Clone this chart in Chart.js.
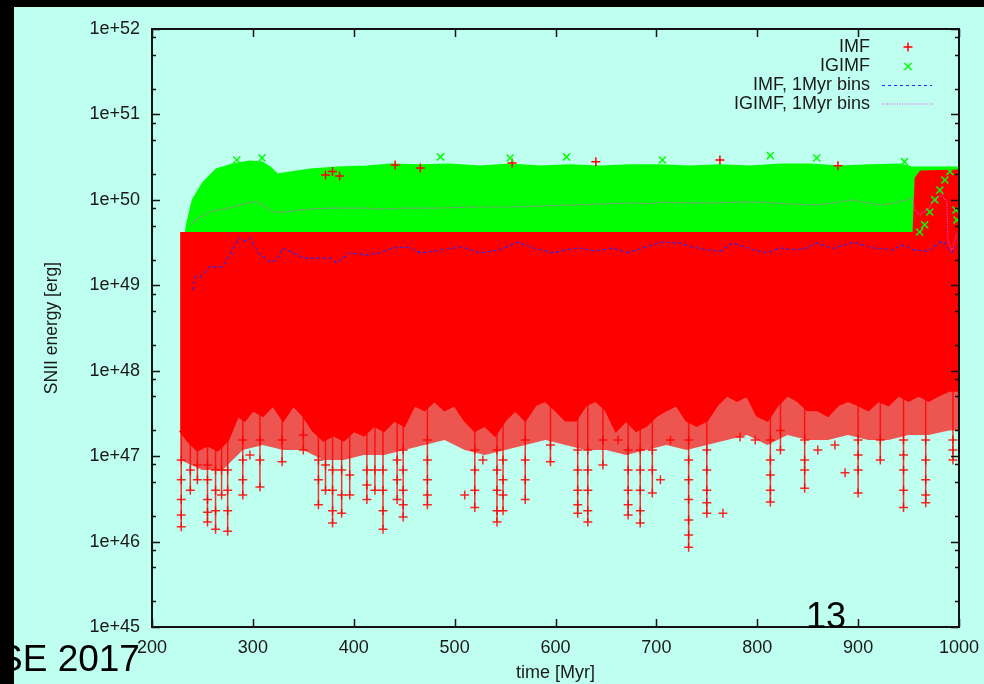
<!DOCTYPE html>
<html>
<head>
<meta charset="utf-8">
<script src="https://cdn.jsdelivr.net/npm/chart.js@4.4.0/dist/chart.umd.min.js"></script>
<style>
  html, body { margin: 0; padding: 0; background: #bffff0; overflow: hidden; }
  #wrap { position: relative; width: 984px; height: 684px; }
  canvas { position: absolute; left: 0; top: 0; }
  .bar { position: absolute; background: #000; z-index: 5; }
  .note { position: absolute; font-family: "Liberation Sans", Arial, sans-serif; color: #000; z-index: 4; line-height: 1; white-space: nowrap; }
</style>
</head>
<body>
<div id="wrap">
  <canvas id="chart" width="984" height="684"></canvas>
  <div class="bar" style="left:0;top:0;width:984px;height:7px"></div>
  <div class="bar" style="left:0;top:0;width:14px;height:684px"></div>
  <div class="note" style="left:-2px;top:640px;font-size:37px">SE 2017</div>
  <div class="note" style="left:806px;top:598px;font-size:36px">13</div>
</div>
<script>
// axis ticks
const xTicks = [200, 300, 400, 500, 600, 700, 800, 900, 1000];
const yTicks = [1e45, 1e46, 1e47, 1e48, 1e49, 1e50, 1e51, 1e52];
const yTickLabels = ["1e+45", "1e+46", "1e+47", "1e+48", "1e+49", "1e+50", "1e+51", "1e+52"];
const yMinor = [2, 5, 8];

// top of the dense IMF cloud (erg)
const imfCeiling = 4.2e49;

// upper edge of the IGIMF cloud [time Myr, energy erg]
const igimfTop = [
  [234, 4.2e49], [235, 5.0e49], [238, 7.2e49], [241, 1.0e50], [251, 1.57e50], [264, 2.24e50],
  [280, 2.56e50], [297, 2.77e50], [309, 2.7e50], [317, 2.36e50], [324, 1.95e50], [337, 2.06e50],
  [357, 2.24e50], [383, 2.36e50], [413, 2.42e50], [436, 2.56e50], [466, 2.5e50], [495, 2.56e50],
  [525, 2.42e50], [555, 2.56e50], [585, 2.42e50], [614, 2.5e50], [644, 2.42e50], [674, 2.5e50],
  [704, 2.5e50], [733, 2.42e50], [763, 2.5e50], [793, 2.42e50], [823, 2.56e50], [852, 2.56e50],
  [882, 2.42e50], [912, 2.5e50], [942, 2.56e50], [953, 2.36e50], [1000, 2.36e50]
];

// lower edge of the dense IMF cloud
const imfFloor = [
  [228, 2.0e47], [235, 1.55e47], [245, 1.18e47], [255, 1.35e47], [265, 1.18e47], [275, 1.55e47],
  [285, 3.0e47], [292, 2.65e47], [300, 3.5e47], [310, 3.0e47], [320, 4.0e47], [330, 2.65e47],
  [340, 4.0e47], [350, 3.0e47], [360, 2.0e47], [370, 1.55e47], [380, 1.77e47], [390, 1.55e47],
  [400, 2.0e47], [410, 1.77e47], [420, 2.3e47], [430, 2.0e47], [440, 2.65e47], [450, 2.3e47],
  [460, 4.0e47], [470, 3.5e47], [480, 4.5e47], [490, 3.5e47], [500, 4.0e47], [510, 2.65e47],
  [520, 2.0e47], [530, 2.3e47], [540, 1.77e47], [550, 2.65e47], [560, 3.5e47], [570, 2.65e47],
  [580, 4.0e47], [590, 4.5e47], [600, 3.5e47], [610, 2.65e47], [620, 2.65e47], [630, 4.0e47],
  [640, 4.5e47], [650, 3.5e47], [660, 2.0e47], [670, 2.65e47], [680, 2.0e47], [690, 2.3e47],
  [700, 3.0e47], [710, 3.5e47], [720, 4.0e47], [730, 2.65e47], [740, 2.3e47], [750, 2.65e47],
  [760, 4.0e47], [770, 5.2e47], [780, 4.5e47], [790, 5.2e47], [800, 3.0e47], [810, 2.65e47],
  [820, 4.0e47], [830, 5.2e47], [840, 4.5e47], [850, 3.5e47], [860, 3.5e47], [870, 3.0e47],
  [880, 4.0e47], [890, 4.5e47], [900, 4.0e47], [910, 3.5e47], [920, 4.5e47], [930, 4.0e47],
  [940, 5.2e47], [950, 4.5e47], [960, 5.2e47], [970, 4.5e47], [980, 5.2e47], [990, 5.9e47],
  [1000, 5.9e47]
];

// lower edge of the thinner fringe below the dense cloud
const imfFringe = [
  [228, 9.0e46], [250, 6.9e46], [270, 6.9e46], [290, 1.18e47], [310, 1.35e47], [330, 1.18e47],
  [350, 1.18e47], [370, 9.0e46], [390, 9.0e46], [410, 1.03e47], [430, 1.03e47], [450, 1.18e47],
  [470, 1.35e47], [490, 1.55e47], [510, 1.18e47], [530, 1.03e47], [550, 1.18e47], [570, 1.35e47],
  [590, 1.55e47], [610, 1.35e47], [630, 1.18e47], [650, 1.18e47], [670, 1.03e47], [690, 1.18e47],
  [710, 1.35e47], [730, 1.18e47], [750, 1.35e47], [770, 1.55e47], [790, 1.77e47], [810, 1.35e47],
  [830, 1.77e47], [850, 1.55e47], [870, 1.55e47], [890, 1.77e47], [910, 1.55e47], [930, 1.55e47],
  [950, 1.77e47], [970, 1.77e47], [990, 2.0e47], [1000, 2.0e47]
];

// IMF events rising above the ceiling at the late end
const imfLateTop = [[955, 4.2e49], [957, 1.8e50], [962, 2.15e50], [1000, 2.2e50]];

// single IMF events below the dense cloud
const imfTail = [
  [229, 9.0e46], [229, 5.3e46], [229, 3.1e46], [229, 2.05e46], [229, 1.49e46],
  [238, 6.9e46], [238, 4.0e46], [245, 7.9e46], [245, 5.3e46],
  [255, 7.9e46], [255, 5.3e46], [255, 3.1e46], [255, 2.2e46], [255, 1.69e46],
  [263, 6.9e46], [263, 4.0e46], [263, 2.3e46], [263, 1.39e46],
  [269, 6.9e46], [269, 3.5e46],
  [275, 6.9e46], [275, 4.0e46], [275, 2.3e46], [275, 1.32e46],
  [290, 1.55e47], [290, 9.0e46], [290, 5.3e46], [290, 3.5e46], [297, 1.03e47],
  [307, 1.55e47], [307, 9.0e46], [307, 4.35e46], [329, 1.55e47], [329, 8.6e46],
  [350, 1.77e47], [350, 1.18e47], [365, 9.0e46], [365, 5.3e46], [365, 2.7e46],
  [372, 7.9e46], [372, 4.0e46],
  [379, 6.9e46], [379, 4.0e46], [379, 2.3e46], [379, 1.65e46],
  [388, 6.9e46], [388, 3.5e46], [388, 2.15e46], [396, 6.0e46], [396, 3.5e46],
  [413, 6.9e46], [413, 4.6e46], [413, 3.1e46], [421, 6.9e46], [421, 4.0e46],
  [429, 6.9e46], [429, 4.0e46], [429, 2.3e46], [429, 1.39e46],
  [443, 9.0e46], [443, 5.3e46], [443, 3.1e46],
  [449, 1.18e47], [449, 6.9e46], [449, 4.0e46], [449, 2.7e46], [449, 1.94e46],
  [473, 1.55e47], [473, 9.0e46], [473, 5.3e46], [473, 3.5e46], [473, 2.7e46],
  [510, 3.5e46], [520, 1.18e47], [520, 6.9e46], [520, 4.0e46], [520, 2.5e46], [528, 9.0e46],
  [542, 1.18e47], [542, 6.9e46], [542, 4.0e46], [542, 2.3e46], [542, 1.69e46],
  [548, 9.0e46], [548, 5.3e46], [548, 3.5e46], [548, 2.3e46],
  [570, 1.55e47], [570, 9.0e46], [570, 5.3e46], [570, 3.1e46], [595, 1.35e47], [595, 8.6e46],
  [622, 1.18e47], [622, 6.9e46], [622, 4.0e46], [622, 2.7e46], [622, 2.15e46],
  [632, 1.18e47], [632, 6.9e46], [632, 4.0e46], [632, 2.3e46], [632, 1.69e46],
  [647, 1.55e47], [647, 7.9e46], [662, 1.55e47],
  [672, 1.18e47], [672, 6.9e46], [672, 4.0e46], [672, 2.7e46], [672, 2.05e46],
  [684, 1.18e47], [684, 6.9e46], [684, 4.0e46], [684, 2.3e46], [684, 1.65e46],
  [696, 1.18e47], [696, 6.9e46], [696, 3.7e46], [704, 5.3e46], [714, 1.55e47],
  [732, 1.55e47], [732, 9.0e46], [732, 5.3e46], [732, 3.1e46], [732, 1.79e46], [732, 1.19e46], [732, 8.6e45],
  [750, 1.18e47], [750, 6.9e46], [750, 4.0e46], [750, 2.85e46], [750, 2.15e46],
  [766, 2.15e46], [783, 1.67e47], [798, 1.55e47],
  [813, 1.55e47], [813, 9.0e46], [813, 6.0e46], [813, 4.0e46], [813, 2.9e46],
  [823, 2.0e47], [823, 1.18e47], [847, 1.55e47], [847, 9.0e46], [847, 6.9e46], [847, 4.2e46],
  [860, 1.18e47], [877, 1.35e47], [887, 6.4e46],
  [900, 1.55e47], [900, 1.03e47], [900, 6.9e46], [900, 3.7e46], [922, 1.55e47], [922, 9.0e46],
  [945, 1.55e47], [945, 1.03e47], [945, 6.9e46], [945, 4.0e46], [945, 2.5e46],
  [967, 1.55e47], [967, 9.0e46], [967, 5.3e46], [967, 3.5e46], [967, 2.85e46],
  [994, 1.55e47], [994, 1.18e47], [994, 9.0e46]
];

// IMF events above the IGIMF cloud
const imfHigh = [[372, 1.95e50], [379, 2.15e50], [386, 1.9e50], [441, 2.56e50], [466, 2.36e50],
  [557, 2.7e50], [640, 2.8e50], [763, 2.93e50], [880, 2.5e50]];

// IGIMF events at the edge of its cloud
const igimfHigh = [[284, 2.93e50], [309, 3.09e50], [486, 3.18e50], [555, 3.09e50], [611, 3.18e50],
  [706, 2.93e50], [813, 3.3e50], [859, 3.09e50], [946, 2.8e50],
  [961, 4.2e49], [966, 5.1e49], [971, 7.2e49], [976, 1.0e50], [981, 1.3e50], [986, 1.71e50],
  [991, 2.15e50], [997, 7.6e49], [998, 5.8e49]];

// 1 Myr bin means
const imfBins = [
  [240, 8.8e48], [243, 1.25e49], [248, 1.25e49], [257, 1.64e49], [270, 1.64e49], [280, 2.6e49],
  [286, 3.58e49], [292, 3.3e49], [297, 3.6e49], [300, 3.1e49], [307, 2.3e49], [317, 1.87e49],
  [324, 2.0e49], [330, 2.74e49], [340, 2.4e49], [350, 2.08e49], [364, 2.08e49], [377, 2.08e49],
  [383, 1.82e49], [396, 2.4e49], [413, 2.26e49], [426, 2.39e49], [439, 2.74e49], [453, 2.8e49],
  [466, 2.39e49], [480, 2.5e49], [495, 2.7e49], [508, 2.8e49], [525, 2.39e49], [545, 2.6e49],
  [562, 3.2e49], [578, 2.74e49], [598, 2.39e49], [610, 2.6e49], [624, 2.74e49], [640, 2.5e49],
  [657, 2.74e49], [670, 2.4e49], [681, 2.6e49], [693, 2.9e49], [704, 3.2e49], [723, 3.13e49],
  [736, 2.8e49], [750, 2.6e49], [763, 2.5e49], [776, 3.13e49], [796, 2.6e49], [810, 2.4e49],
  [823, 2.74e49], [838, 2.6e49], [849, 2.74e49], [859, 3.13e49], [875, 2.7e49], [895, 3.2e49],
  [915, 2.74e49], [935, 2.6e49], [942, 2.96e49], [955, 2.6e49], [970, 2.5e49], [980, 3.1e49],
  [985, 3.3e49], [990, 2.6e49], [993, 2.45e49], [996, 2.8e49]
];
const igimfBins = [
  [239, 5.1e49], [243, 5.8e49], [248, 6.3e49], [257, 7.2e49], [264, 7.6e49], [272, 7.8e49],
  [280, 8.25e49], [288, 8.7e49], [294, 9.2e49], [300, 9.4e49], [304, 9.4e49], [309, 8.7e49],
  [314, 8.0e49], [320, 7.2e49], [330, 7.2e49], [347, 7.6e49], [363, 7.9e49], [380, 8.0e49],
  [413, 8.0e49], [426, 7.8e49], [450, 8.0e49], [480, 8.0e49], [520, 8.25e49], [558, 8.25e49],
  [590, 8.5e49], [620, 8.7e49], [650, 9.0e49], [671, 9.2e49], [690, 9.0e49], [707, 9.4e49],
  [730, 9.2e49], [756, 9.2e49], [780, 9.4e49], [803, 9.4e49], [830, 9.0e49], [855, 8.7e49],
  [875, 9.2e49], [895, 1.0e50], [905, 9.4e49], [915, 9.0e49], [922, 8.7e49], [935, 9.2e49],
  [948, 1.0e50], [954, 1.08e50], [956, 7.6e49], [961, 6.65e49], [970, 8.0e49], [974, 9.4e49],
  [983, 1.14e50], [988, 9.4e49], [989, 3.4e49], [993, 2.45e49], [996, 3.4e49], [998, 4.1e49]
];

const RED = "#ff0000";
const GREEN = "#00ff00";
const BLUE = "#1a2cff";
const MAGENTA = "#ee44ee";
const FONT = "'Liberation Sans', Arial, sans-serif";

const pts = (arr) => arr.map(([t, e]) => ({ x: t, y: e }));

// vertical runs of stacked markers: from the cloud down to the lowest event at that time
const streakStems = [];
const byTime = {};
imfTail.forEach(([t, e]) => { (byTime[t] = byTime[t] || []).push(e); });
Object.keys(byTime).forEach((t) => {
  if (byTime[t].length > 1) {
    streakStems.push({ x: +t, y: imfCeiling }, { x: +t, y: Math.min(...byTime[t]) }, { x: +t, y: null });
  }
});

// gnuplot style frame, inward ticks and key
const framePlugin = {
  id: "frame",
  afterDatasetsDraw(chart) {
    const { ctx, chartArea: a, scales } = chart;
    const x = scales.x, y = scales.y;
    ctx.save();
    ctx.strokeStyle = "#111";
    ctx.lineWidth = 1.5;
    ctx.beginPath();
    xTicks.forEach((v) => {
      const px = Math.round(x.getPixelForValue(v)) + 0.5;
      ctx.moveTo(px, a.bottom); ctx.lineTo(px, a.bottom - 8);
      ctx.moveTo(px, a.top); ctx.lineTo(px, a.top + 8);
    });
    yTicks.forEach((v, i) => {
      const py = Math.round(y.getPixelForValue(v)) + 0.5;
      ctx.moveTo(a.left, py); ctx.lineTo(a.left + 8, py);
      ctx.moveTo(a.right, py); ctx.lineTo(a.right - 8, py);
      if (i < yTicks.length - 1) {
        yMinor.forEach((m) => {
          const pm = Math.round(y.getPixelForValue(v * m)) + 0.5;
          ctx.moveTo(a.left, pm); ctx.lineTo(a.left + 4, pm);
          ctx.moveTo(a.right, pm); ctx.lineTo(a.right - 4, pm);
        });
      }
    });
    ctx.stroke();
    ctx.lineWidth = 2;
    ctx.strokeRect(a.left, a.top, a.right - a.left, a.bottom - a.top);

    // key
    const tx = a.right - 89, sx = a.right - 51;
    const rows = [a.top + 18, a.top + 37.5, a.top + 56.5, a.top + 75];
    ctx.font = "18px " + FONT;
    ctx.fillStyle = "#1a1a1a";
    ctx.textAlign = "right";
    ctx.textBaseline = "middle";
    ["IMF", "IGIMF", "IMF, 1Myr bins", "IGIMF, 1Myr bins"].forEach((s, i) => ctx.fillText(s, tx, rows[i]));
    ctx.strokeStyle = RED;
    ctx.lineWidth = 1.5;
    Chart.helpers.drawPoint(ctx, { pointStyle: "cross", radius: 4.5, borderWidth: 1.5 }, sx, rows[0]);
    ctx.strokeStyle = GREEN;
    Chart.helpers.drawPoint(ctx, { pointStyle: "crossRot", radius: 5, borderWidth: 1.5 }, sx, rows[1]);
    ctx.lineWidth = 1.2;
    ctx.strokeStyle = BLUE;
    ctx.setLineDash([3, 3]);
    ctx.beginPath(); ctx.moveTo(sx - 26, rows[2]); ctx.lineTo(sx + 24, rows[2]); ctx.stroke();
    ctx.strokeStyle = MAGENTA;
    ctx.setLineDash([1, 1.5]);
    ctx.beginPath(); ctx.moveTo(sx - 26, rows[3]); ctx.lineTo(sx + 26, rows[3]); ctx.stroke();
    ctx.restore();
  }
};

const scatterStyle = (color, style, radius) => ({
  showLine: false,
  pointStyle: style,
  pointRadius: radius,
  pointBorderWidth: 1.5,
  pointBorderColor: color,
  pointBackgroundColor: color,
  borderColor: color,
  backgroundColor: color,
  fill: false
});

new Chart(document.getElementById("chart"), {
  type: "line",
  data: {
    datasets: [
      { label: "IMF, 1Myr bins", data: pts(imfBins), borderColor: BLUE, borderWidth: 1.2,
        borderDash: [3, 3], pointRadius: 0, fill: false, order: 0 },
      { label: "IGIMF, 1Myr bins", data: pts(igimfBins), borderColor: MAGENTA, borderWidth: 1.2,
        borderDash: [1, 1.5], pointRadius: 0, fill: false, order: 1 },
      { label: "IGIMF edge", data: pts(igimfHigh), ...scatterStyle(GREEN, "crossRot", 5), order: 2 },
      { label: "IMF high", data: pts(imfHigh), ...scatterStyle(RED, "cross", 4.5), order: 3 },
      { label: "IMF tail", data: pts(imfTail), ...scatterStyle("rgba(255,0,0,0.85)", "cross", 4.5), order: 4 },
      { label: "IMF streaks", data: streakStems, borderColor: "rgba(255,0,0,0.8)", borderWidth: 1.5,
        pointRadius: 0, spanGaps: false, fill: false, order: 5 },
      { label: "IMF late", data: pts(imfLateTop), borderColor: RED, backgroundColor: RED, borderWidth: 2,
        pointRadius: 0, fill: { value: imfCeiling }, order: 6 },
      { label: "IMF", data: pts(imfFloor), borderColor: RED, backgroundColor: RED, borderWidth: 3,
        pointRadius: 0, fill: { value: imfCeiling }, order: 7 },
      { label: "IMF fringe", data: pts(imfFringe), borderColor: "rgba(255,0,0,0)", backgroundColor: "rgba(255,20,20,0.72)",
        borderWidth: 0, pointRadius: 0, fill: { value: imfCeiling }, order: 8 },
      { label: "IGIMF", data: pts(igimfTop), borderColor: GREEN, backgroundColor: GREEN, borderWidth: 3,
        pointRadius: 0, fill: { value: imfCeiling }, order: 9 }
    ]
  },
  options: {
    responsive: false,
    animation: false,
    events: [],
    layout: { padding: { top: 29, right: 25, bottom: 0, left: 0 } },
    plugins: { legend: { display: false }, tooltip: { enabled: false } },
    elements: { line: { tension: 0 } },
    scales: {
      x: {
        type: "linear",
        min: 200,
        max: 1000,
        afterBuildTicks: (s) => { s.ticks = xTicks.map((v) => ({ value: v })); },
        afterFit: (s) => { s.height = 57; s.paddingLeft = 0; s.paddingRight = 0; },
        grid: { display: false, drawTicks: false },
        border: { display: false },
        ticks: { color: "#1a1a1a", font: { family: FONT, size: 18 }, padding: 10, maxRotation: 0,
          callback: (v, i) => String(xTicks[i]) },
        title: { display: true, text: "time [Myr]", color: "#1a1a1a", font: { family: FONT, size: 18 },
          padding: { top: 0, bottom: 0 } }
      },
      y: {
        type: "logarithmic",
        min: 1e45,
        max: 1e52,
        afterBuildTicks: (s) => { s.ticks = yTicks.map((v) => ({ value: v })); },
        afterFit: (s) => { s.width = 152; s.paddingTop = 0; s.paddingBottom = 0; },
        grid: { display: false, drawTicks: false },
        border: { display: false },
        ticks: { color: "#1a1a1a", font: { family: FONT, size: 18 }, padding: 12,
          callback: (v, i) => yTickLabels[i] },
        title: { display: true, text: "SNII energy [erg]", color: "#1a1a1a", font: { family: FONT, size: 17.5 },
          padding: { top: 42, bottom: 0 } }
      }
    }
  },
  plugins: [framePlugin]
});
</script>
</body>
</html>
